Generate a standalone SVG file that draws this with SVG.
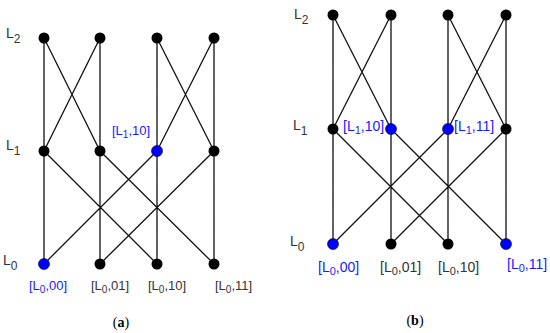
<svg xmlns="http://www.w3.org/2000/svg" width="550" height="333" viewBox="0 0 550 333">
<style>
.e{stroke:#111;stroke-width:1.3;fill:none}
.n{fill:#000}
.b{fill:#0000ff}
.t{font-family:"Liberation Sans",Arial,sans-serif;fill:#333}
.bl{fill:#1a1aff}
.cap{font-family:"Liberation Serif","Times New Roman",serif;font-size:14px;fill:#000}
</style>
<rect width="550" height="333" fill="#fff"/>
<g id="connectors">
<!-- panel a: L2-L1 -->
<path class="e" d="M44 38L44 151M44 38L100 151M100 38L44 151M100 38L100 151M157 38L157 151M157 38L214 151M214 38L157 151M214 38L214 151"/>
<!-- panel a: L1-L0 -->
<path class="e" d="M44 151L44 264M44 151L157 264M100 151L100 264M100 151L214 264M157 151L157 264M157 151L44 264M214 151L214 264M214 151L100 264"/>
<!-- panel b: L2-L1 -->
<path class="e" d="M333 15L333 129M333 15L391 129M391 15L333 129M391 15L391 129M448 15L448 129M448 15L506 129M506 15L448 129M506 15L506 129"/>
<!-- panel b: L1-L0 -->
<path class="e" d="M333 129L333 244M333 129L448 244M391 129L391 244M391 129L506 244M448 129L448 244M448 129L333 244M506 129L506 244M506 129L391 244"/>
</g>
<g id="a-nodes">
<g id="a-L2-00"><circle class="n" cx="44" cy="38" r="5.5"/></g>
<g id="a-L2-01"><circle class="n" cx="100" cy="38" r="5.5"/></g>
<g id="a-L2-10"><circle class="n" cx="157" cy="38" r="5.5"/></g>
<g id="a-L2-11"><circle class="n" cx="214" cy="38" r="5.5"/></g>
<g id="a-L1-00"><circle class="n" cx="44" cy="151" r="5.5"/></g>
<g id="a-L1-01"><circle class="n" cx="100" cy="151" r="5.5"/></g>
<g id="a-L1-10"><circle class="b" cx="157" cy="151" r="5.5" stroke="#000" stroke-width="0.6"/>
<text class="t bl" x="112" y="135" font-size="13">[L<tspan font-size="10" dy="3">1</tspan><tspan dy="-3">,10]</tspan></text></g>
<g id="a-L1-11"><circle class="n" cx="214" cy="151" r="5.5"/></g>
<g id="a-L0-00"><circle class="b" cx="44" cy="264" r="5.5" stroke="#000" stroke-width="0.6"/>
<text class="t bl" x="29" y="290" font-size="13">[L<tspan font-size="10" dy="3">0</tspan><tspan dy="-3">,00]</tspan></text></g>
<g id="a-L0-01"><circle class="n" cx="100" cy="264" r="5.5"/>
<text class="t" x="91" y="290" font-size="13">[L<tspan font-size="10" dy="3">0</tspan><tspan dy="-3">,01]</tspan></text></g>
<g id="a-L0-10"><circle class="n" cx="157" cy="264" r="5.5"/>
<text class="t" x="148" y="290" font-size="13">[L<tspan font-size="10" dy="3">0</tspan><tspan dy="-3">,10]</tspan></text></g>
<g id="a-L0-11"><circle class="n" cx="214" cy="264" r="5.5"/>
<text class="t" x="215" y="290" font-size="13">[L<tspan font-size="10" dy="3">0</tspan><tspan dy="-3">,11]</tspan></text></g>
</g>
<g id="a-levels">
<text class="t" x="6" y="38" font-size="14">L<tspan font-size="12" dy="5">2</tspan></text>
<text class="t" x="6" y="150" font-size="14">L<tspan font-size="12" dy="5">1</tspan></text>
<text class="t" x="3" y="265" font-size="14">L<tspan font-size="12" dy="5">0</tspan></text>
</g>
<g id="b-nodes">
<g id="b-L2-00"><circle class="n" cx="333" cy="15" r="5.5"/></g>
<g id="b-L2-01"><circle class="n" cx="391" cy="15" r="5.5"/></g>
<g id="b-L2-10"><circle class="n" cx="448" cy="15" r="5.5"/></g>
<g id="b-L2-11"><circle class="n" cx="506" cy="15" r="5.5"/></g>
<g id="b-L1-00"><circle class="n" cx="333" cy="129" r="5.5"/></g>
<g id="b-L1-01"><circle class="b" cx="391" cy="129" r="5.5" stroke="#000" stroke-width="0.6"/>
<text class="t bl" x="343" y="131" font-size="14">[L<tspan font-size="11" dy="3">1</tspan><tspan dy="-3">,10]</tspan></text></g>
<g id="b-L1-10"><circle class="b" cx="448" cy="129" r="5.5" stroke="#000" stroke-width="0.6"/>
<text class="t bl" x="454" y="131" font-size="14">[L<tspan font-size="11" dy="3">1</tspan><tspan dy="-3">,11]</tspan></text></g>
<g id="b-L1-11"><circle class="n" cx="506" cy="129" r="5.5"/></g>
<g id="b-L0-00"><circle class="b" cx="333" cy="244" r="5.5" stroke="#000" stroke-width="0.6"/>
<text class="t bl" x="318" y="272" font-size="14">[L<tspan font-size="11" dy="3">0</tspan><tspan dy="-3">,00]</tspan></text></g>
<g id="b-L0-01"><circle class="n" cx="391" cy="244" r="5.5"/>
<text class="t" x="380" y="272" font-size="14">[L<tspan font-size="11" dy="3">0</tspan><tspan dy="-3">,01]</tspan></text></g>
<g id="b-L0-10"><circle class="n" cx="448" cy="244" r="5.5"/>
<text class="t" x="438" y="272" font-size="14">[L<tspan font-size="11" dy="3">0</tspan><tspan dy="-3">,10]</tspan></text></g>
<g id="b-L0-11"><circle class="b" cx="506" cy="244" r="5.5" stroke="#000" stroke-width="0.6"/>
<text class="t bl" x="507" y="269" font-size="14">[L<tspan font-size="11" dy="3">0</tspan><tspan dy="-3">,11]</tspan></text></g>
</g>
<g id="b-levels">
<text class="t" x="294" y="19" font-size="14">L<tspan font-size="12" dy="5">2</tspan></text>
<text class="t" x="293" y="130" font-size="14">L<tspan font-size="12" dy="5">1</tspan></text>
<text class="t" x="290" y="246" font-size="14">L<tspan font-size="12" dy="5">0</tspan></text>
</g>
<text class="cap" x="121" y="327" text-anchor="middle">(<tspan font-weight="bold">a</tspan>)</text>
<text class="cap" x="415" y="325" text-anchor="middle">(<tspan font-weight="bold">b</tspan>)</text>
</svg>
